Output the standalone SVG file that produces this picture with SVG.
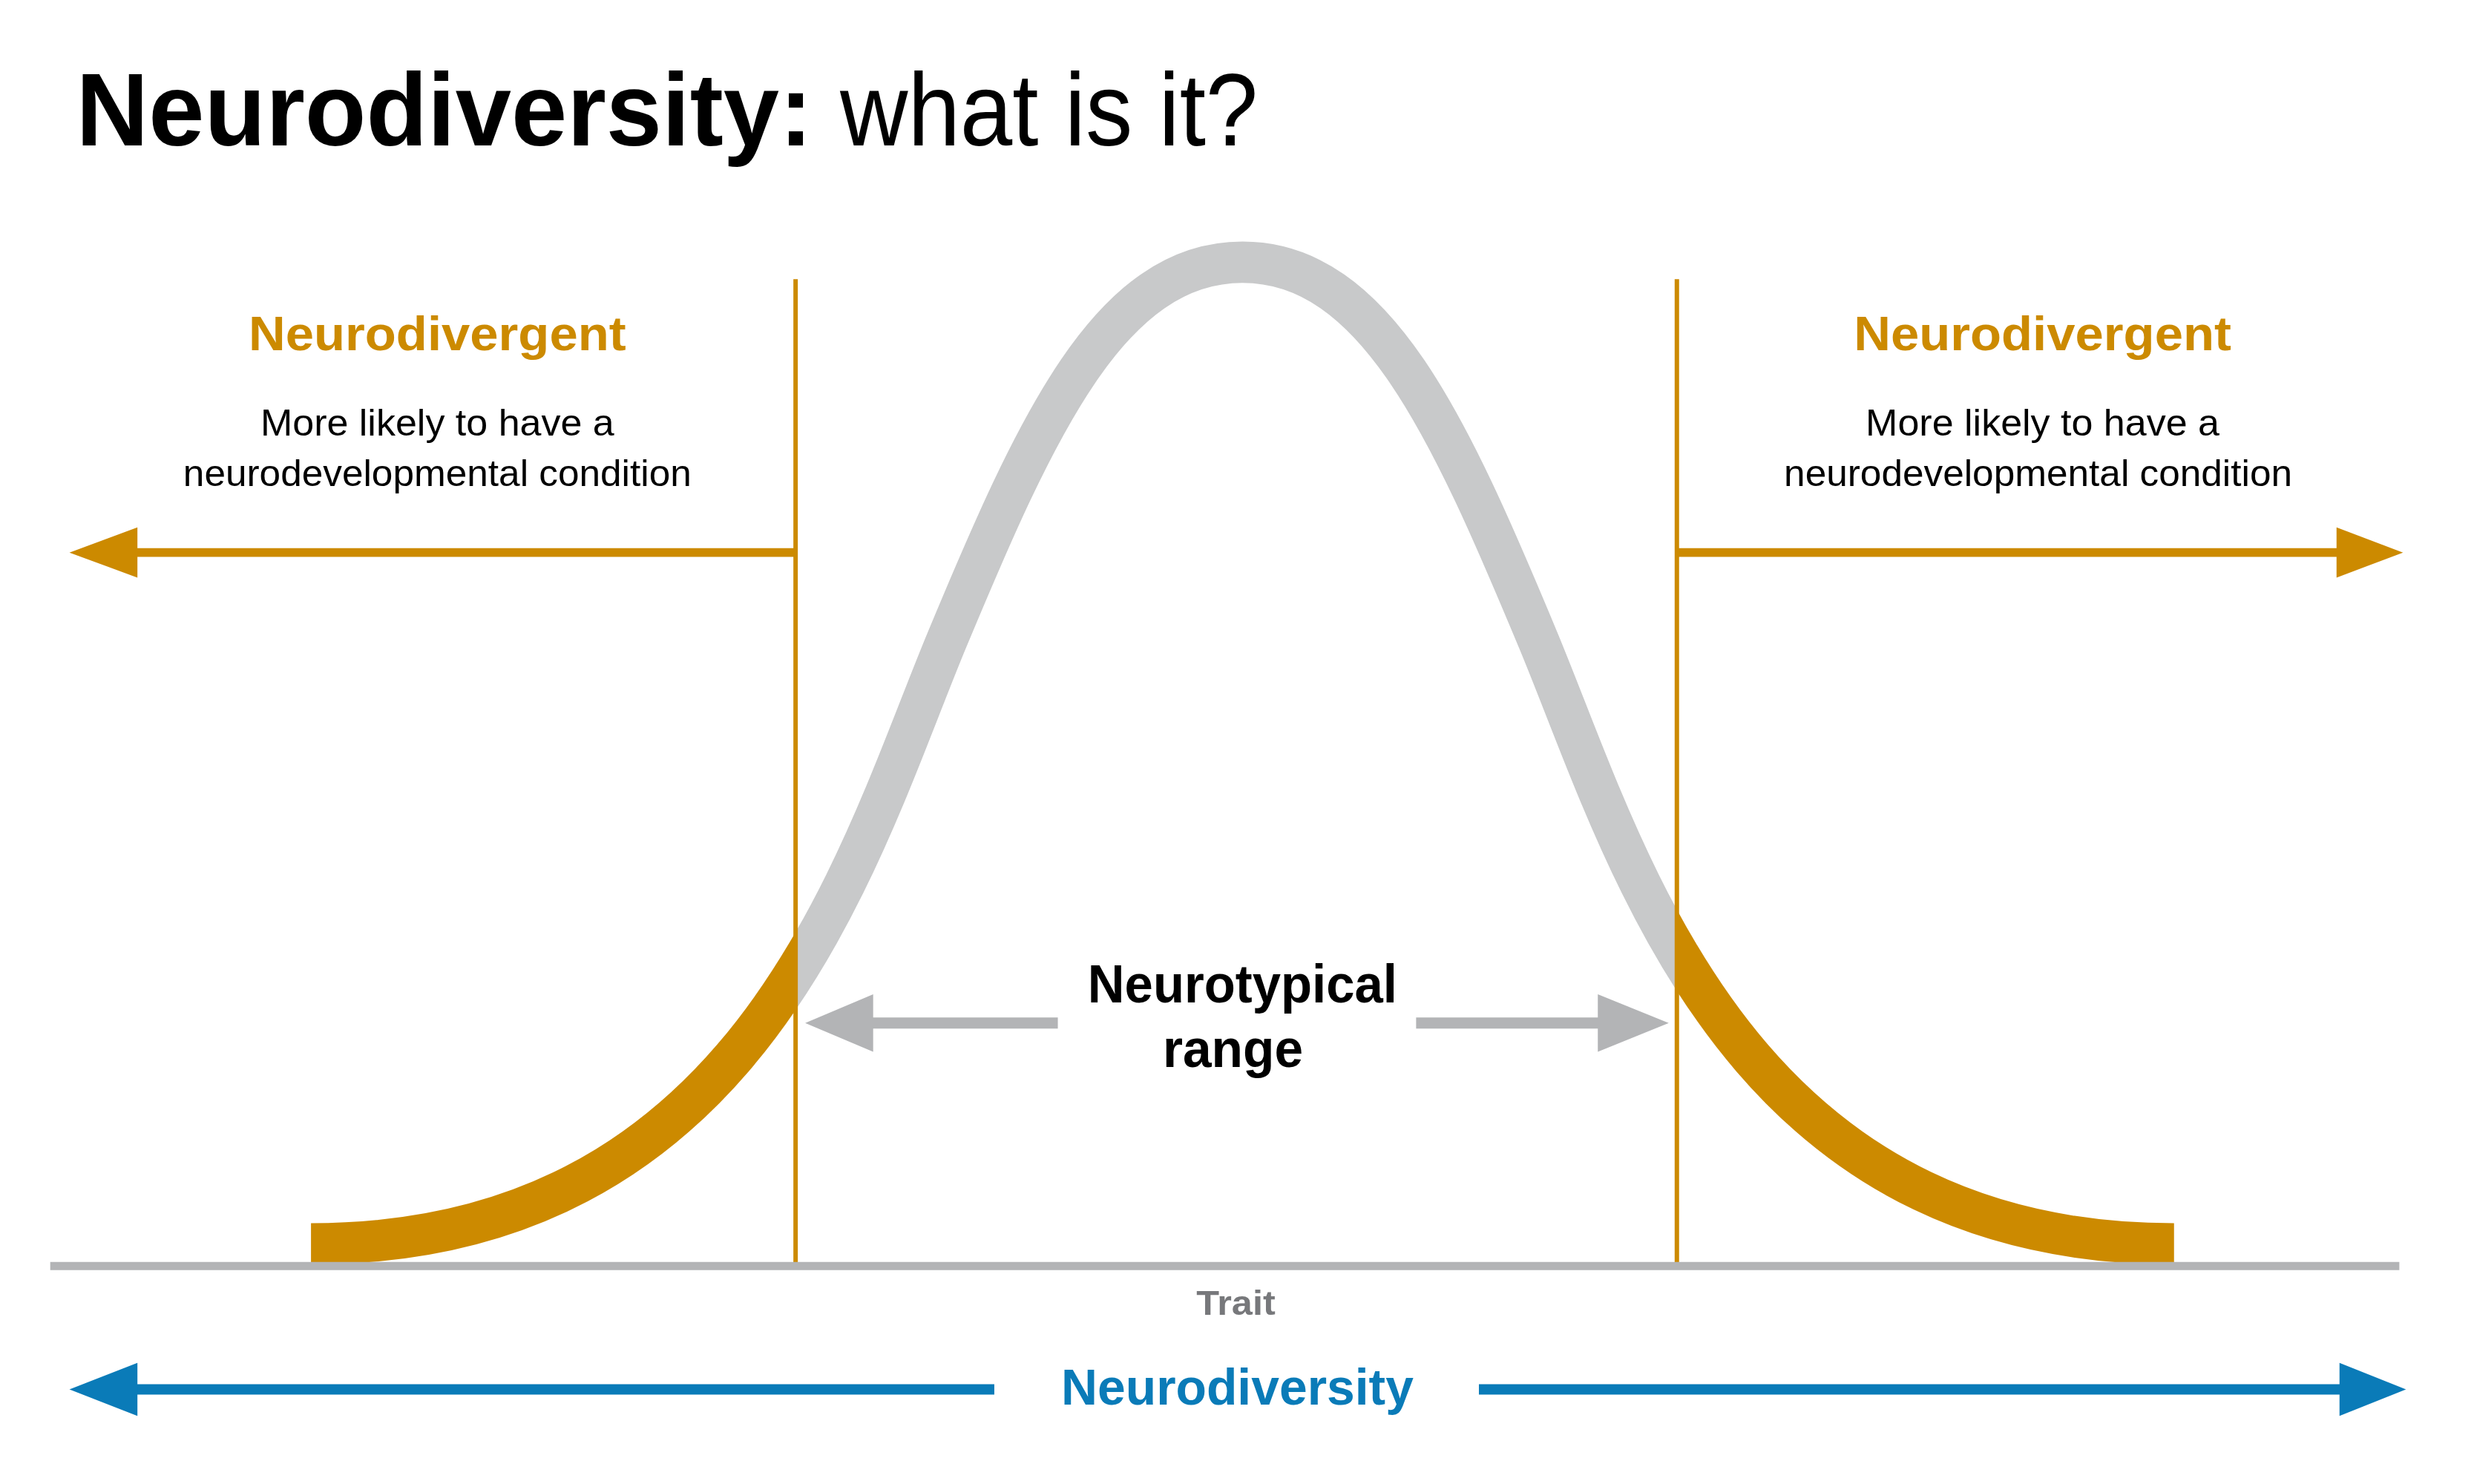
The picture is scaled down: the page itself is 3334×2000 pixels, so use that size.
<svg xmlns="http://www.w3.org/2000/svg" width="3334" height="2000" viewBox="0 0 3334 2000">
<style>
.t{font-family:"Liberation Sans",Arial,sans-serif}
.b{font-weight:bold}
.or{fill:#cc8a00}
.lbl{fill:#000;font-size:50px}
</style>
<defs>
<clipPath id="cOut"><rect x="0" y="0" width="1077" height="2000"/><rect x="2270" y="0" width="1064" height="2000"/></clipPath>
<clipPath id="cIn"><rect x="1077" y="0" width="1193" height="2000"/></clipPath>
<path id="curve" d="M421,1684 C1021,1684 1162,1154 1282,866 C1402,578 1502,355 1682,355 C1862,355 1962,578 2082,866 C2202,1154 2343,1684 2943,1684" fill="none" stroke-width="56"/>
</defs>
<rect width="3334" height="2000" fill="#fff"/>
<g transform="scale(0.9955)">
<g id="title">
<text class="t b" x="103" y="197" font-size="140" textLength="997" lengthAdjust="spacingAndGlyphs">Neurodiversity:</text>
<text class="t" x="1137" y="197" font-size="140" textLength="566" lengthAdjust="spacingAndGlyphs">what is it?</text>
</g>
<g id="bell">
<use href="#curve" stroke="#c8c9ca" clip-path="url(#cIn)"/>
<use href="#curve" stroke="#cc8a00" clip-path="url(#cOut)"/>
</g>
<g id="connectors">
<line x1="1077" y1="378" x2="1077" y2="1712" stroke="#cc8a00" stroke-width="6"/>
<line x1="2270" y1="378" x2="2270" y2="1712" stroke="#cc8a00" stroke-width="6"/>
<line x1="68" y1="1714" x2="3248" y2="1714" stroke="#b3b4b6" stroke-width="11"/>
<line x1="1077" y1="748" x2="180" y2="748" stroke="#cc8a00" stroke-width="12"/>
<polygon points="94,748 186,714 186,782" fill="#cc8a00"/>
<line x1="2270" y1="748" x2="3170" y2="748" stroke="#cc8a00" stroke-width="12"/>
<polygon points="3253,748 3163,714 3163,782" fill="#cc8a00"/>
<line x1="1432" y1="1385" x2="1175" y2="1385" stroke="#b3b4b6" stroke-width="15"/>
<polygon points="1090,1385 1182,1346 1182,1424" fill="#b3b4b6"/>
<line x1="1917" y1="1385" x2="2170" y2="1385" stroke="#b3b4b6" stroke-width="15"/>
<polygon points="2259,1385 2163,1346 2163,1424" fill="#b3b4b6"/>
<line x1="1346" y1="1881" x2="180" y2="1881" stroke="#0a7bb8" stroke-width="14"/>
<polygon points="94,1881 186,1845 186,1917" fill="#0a7bb8"/>
<line x1="2002" y1="1881" x2="3175" y2="1881" stroke="#0a7bb8" stroke-width="14"/>
<polygon points="3257,1881 3167,1845 3167,1917" fill="#0a7bb8"/>
</g>
<g id="left-label">
<text class="t b or" x="592" y="474" font-size="66" text-anchor="middle" textLength="511" lengthAdjust="spacingAndGlyphs">Neurodivergent</text>
<text class="t lbl" x="592" y="590" text-anchor="middle" textLength="479" lengthAdjust="spacingAndGlyphs">More likely to have a</text>
<text class="t lbl" x="592" y="658" text-anchor="middle" textLength="688" lengthAdjust="spacingAndGlyphs">neurodevelopmental condition</text>
</g>
<g id="right-label">
<text class="t b or" x="2765" y="474" font-size="66" text-anchor="middle" textLength="511" lengthAdjust="spacingAndGlyphs">Neurodivergent</text>
<text class="t lbl" x="2765" y="590" text-anchor="middle" textLength="479" lengthAdjust="spacingAndGlyphs">More likely to have a</text>
<text class="t lbl" x="2759" y="658" text-anchor="middle" textLength="688" lengthAdjust="spacingAndGlyphs">neurodevelopmental condition</text>
</g>
<g id="neurotypical">
<text class="t b" x="1682" y="1357" font-size="72" text-anchor="middle" textLength="419" lengthAdjust="spacingAndGlyphs">Neurotypical</text>
<text class="t b" x="1669" y="1445" font-size="72" text-anchor="middle" textLength="190" lengthAdjust="spacingAndGlyphs">range</text>
</g>
<g id="trait">
<text class="t b" x="1673" y="1780" font-size="46" fill="#77787b" text-anchor="middle" textLength="107" lengthAdjust="spacingAndGlyphs">Trait</text>
</g>
<g id="neurodiversity">
<text class="t b" x="1675" y="1902" font-size="68" fill="#0a7bb8" text-anchor="middle" textLength="477" lengthAdjust="spacingAndGlyphs">Neurodiversity</text>
</g>
</g>
</svg>
